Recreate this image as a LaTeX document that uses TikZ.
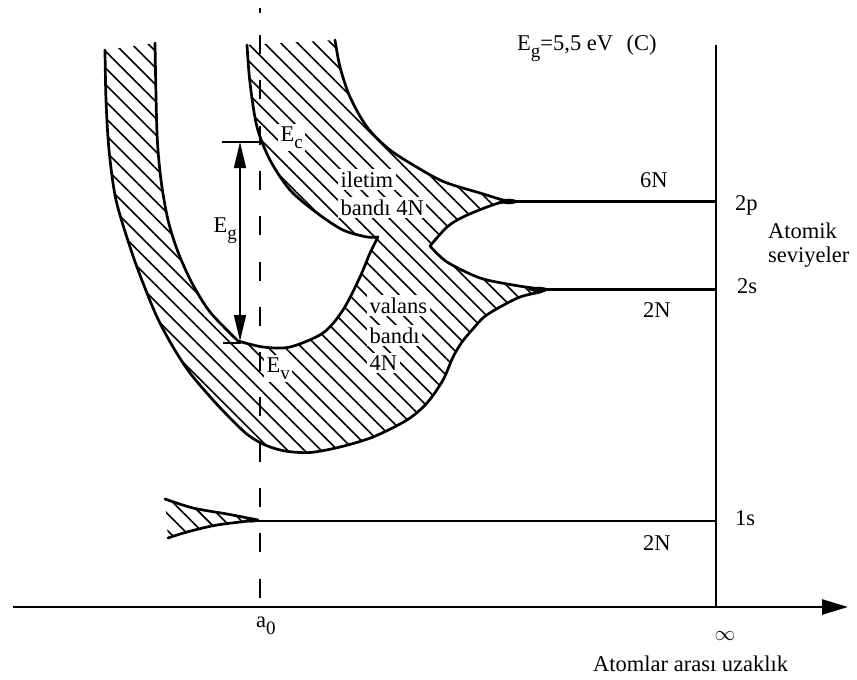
\documentclass[tikz,border=0pt]{standalone}
\usepackage{fontspec}
\setmainfont{Liberation Serif}
\usetikzlibrary{arrows.meta,patterns.meta}
\newcommand{\lsub}[1]{\raisebox{-0.32em}{\fontsize{19}{19}\selectfont #1}}
\begin{document}
\begin{tikzpicture}[x=1pt,y=-1pt,
  bnd/.style={line width=2.7pt, line join=round, line cap=round},
  hatch/.style={pattern={Lines[angle=-45,distance=11.8pt,line width=1.6pt]}},
  lbl/.style={inner sep=0pt, font=\fontsize{22.5}{27}\selectfont},
  wlbl/.style={lbl, fill=white, inner sep=2.5pt},
  lvl/.style={line width=2.8pt},
  axisline/.style={line width=2.6pt},
]
\useasboundingbox (0,0) rectangle (857,680);

% ---------- hatched band region ----------
\fill[hatch]
  plot[smooth] coordinates {(155,43) (157,133) (161,180) (168,220) (178,252) (192,283) (210,312) (238,341)}
  -- plot[smooth] coordinates {(238,341) (263,347) (290,347) (323,333) (343,310) (360,277) (370,253) (378,237)}
  -- plot[smooth] coordinates {(378,237) (367,237) (343,230) (317,213) (290,190) (270,160) (257,127) (250,83) (247,45)}
  -- (335,40)
  -- plot[smooth] coordinates {(335,40) (340,67) (350,97) (367,127) (390,150) (425,172) (447,183) (480,193) (503,200) (515,201.5)}
  -- plot[smooth] coordinates {(515,201.5) (503,202) (487,207) (463,217) (447,227) (430,246)}
  -- plot[smooth] coordinates {(430,246) (447,262) (480,278) (513,285) (533,288) (546,289.5)}
  -- plot[smooth] coordinates {(546,289.5) (540,292) (520,297) (500,307) (484,317) (472,330) (462,342) (453,357) (443,380) (427,403) (407,420) (373,437) (340,447) (310,452.5) (285,451) (265,445) (248,435) (232,420) (213,400) (190,373) (173,347) (157,317) (143,283) (131,250) (116,200) (109,150) (106,100) (105,50)}
  -- cycle;

% 1s hatched tip
\fill[hatch]
  plot[smooth] coordinates {(165,499) (193,508) (227,514) (258,520)}
  -- plot[smooth] coordinates {(258,520) (217,525) (187,532) (168,538)}
  -- cycle;

% ---------- band edges ----------
\draw[bnd]
  plot[smooth] coordinates {(155,43) (157,133) (161,180) (168,220) (178,252) (192,283) (210,312) (238,341)}
  -- plot[smooth] coordinates {(238,341) (263,347) (290,347) (323,333) (343,310) (360,277) (370,253) (378,237)}
  -- plot[smooth] coordinates {(378,237) (367,237) (343,230) (317,213) (290,190) (270,160) (257,127) (250,83) (247,45)};
\draw[bnd]
  plot[smooth] coordinates {(335,40) (340,67) (350,97) (367,127) (390,150) (425,172) (447,183) (480,193) (503,200) (515,201.5)}
  -- plot[smooth] coordinates {(515,201.5) (503,202) (487,207) (463,217) (447,227) (430,246)}
  -- plot[smooth] coordinates {(430,246) (447,262) (480,278) (513,285) (533,288) (546,289.5)}
  -- plot[smooth] coordinates {(546,289.5) (540,292) (520,297) (500,307) (484,317) (472,330) (462,342) (453,357) (443,380) (427,403) (407,420) (373,437) (340,447) (310,452.5) (285,451) (265,445) (248,435) (232,420) (213,400) (190,373) (173,347) (157,317) (143,283) (131,250) (116,200) (109,150) (106,100) (105,50)};
\draw[bnd]
  plot[smooth] coordinates {(165,499) (193,508) (227,514) (258,520)}
  -- plot[smooth] coordinates {(258,520) (217,525) (187,532) (168,538)};

% thickened tips where bands close
\fill (498,201.5) .. controls (506,197.5) and (512,198) .. (520,201.5) .. controls (512,205) and (506,205.5) .. (498,201.5);
\fill (528,289.5) .. controls (536,285.5) and (542,286) .. (550,289.5) .. controls (542,293) and (536,293.5) .. (528,289.5);
\fill (244,520.5) .. controls (250,517.5) and (254,518) .. (260,520.5) .. controls (254,523) and (250,523.5) .. (244,520.5);

% ---------- atomic levels ----------
\coordinate (p2a) at (513,201.5);  \coordinate (p2b) at (716,201.5);
\coordinate (s2a) at (544,289.5); \coordinate (s2b) at (716,289.5);
\coordinate (s1a) at (256,521);  \coordinate (s1b) at (716,521);
\draw[lvl] (p2a) -- (p2b);
\draw[lvl] (s2a) -- (s2b);
\draw[lvl] (s1a) -- (s1b);

% ---------- axes ----------
\coordinate (vtop) at (716,45); \coordinate (vbot) at (716,607);
\draw[line width=2.2pt] (vtop) -- (vbot);
\coordinate (ax0) at (13,607); \coordinate (ax1) at (848,607);
\draw[axisline, -{Triangle[length=26pt,width=15pt]}] (ax0) -- (ax1);

% ---------- Eg arrow ----------
\coordinate (egt0) at (222,142); \coordinate (egt1) at (263,142);
\coordinate (egb0) at (223,343); \coordinate (egb1) at (241,343);
\draw[line width=1.8pt] (egt0) -- (egt1);
\draw[line width=1.8pt] (egb0) -- (egb1);
\coordinate (egtop) at (240,142); \coordinate (egbot) at (240,341);
\draw[line width=1.6pt, {Triangle[length=26pt,width=12pt]}-{Triangle[length=26pt,width=12pt]}] (egtop) -- (egbot);

% ---------- labels inside bands ----------
\node[wlbl, anchor=base west] (ec) at (278,141) {E\lsub{c}};
\node[wlbl, anchor=base west] (il1) at (338,187) {iletim};
\node[wlbl, anchor=base west] (il2) at (338,215) {bandı 4N};
\node[wlbl, anchor=base west] (va1) at (367,313) {valans};
\node[wlbl, anchor=base west] (va2) at (367,343) {bandı};
\node[wlbl, anchor=base west] (va3) at (367,370) {4N};
\node[wlbl, anchor=base west] (ev) at (264,372) {E\lsub{v}};
\node[lbl, anchor=base east] (eg) at (237,232) {E\lsub{g}};

% ---------- dashed a0 line ----------
\coordinate (d0) at (260,35); \coordinate (d1) at (260,600);
\draw[line width=2.2pt, dash pattern=on 19pt off 26.3pt] (d0) -- (d1);
\coordinate (dt0) at (260,8); \coordinate (dt1) at (260,13);
\draw[line width=2.4pt] (dt0) -- (dt1);

% ---------- other labels ----------
\node[lbl, anchor=base west] (egval) at (517,50) {E\lsub{g}=5,5 eV\hspace{0.6em}(C)};
\node[lbl, anchor=base west] (n6) at (640,187) {6N};
\node[lbl, anchor=base west] (l2p) at (735,210) {2p};
\node[lbl, anchor=base west] (at1) at (768,238) {Atomik};
\node[lbl, anchor=base west] (at2) at (768,262) {seviyeler};
\node[lbl, anchor=base west] (l2s) at (737,293) {2s};
\node[lbl, anchor=base west] (n2a) at (643,317) {2N};
\node[lbl, anchor=base west] (l1s) at (735,525) {1s};
\node[lbl, anchor=base west] (n2b) at (643,550) {2N};
\node[lbl, anchor=base west] (a0) at (256,627) {a\lsub{0}};
\node[lbl] (inf) at (725,636) {$\infty$};
\node[lbl, anchor=base west] (xlab) at (593,671) {Atomlar arası uzaklık};
\end{tikzpicture}
\end{document}
